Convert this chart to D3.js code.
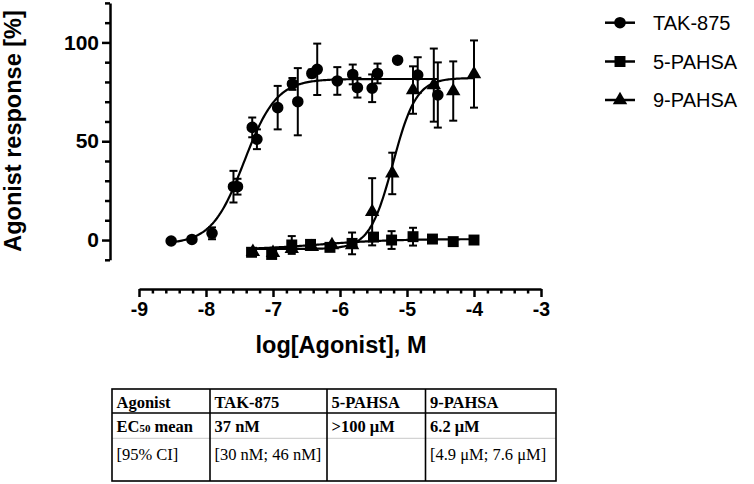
<!DOCTYPE html>
<html>
<head>
<meta charset="utf-8">
<script src="https://cdn.jsdelivr.net/npm/d3@7"></script>
<style>
  body { margin: 0; background: #fff; }
  svg { display: block; }
</style>
</head>
<body>
<div id="mi-grafica"></div>
<script>
// Datos
// TAK-875 (circulos)
var takX = [-8.52, -8.21, -7.91, -7.59, -7.53, -7.31, -7.24, -6.93, -6.71, -6.63,
            -6.42, -6.34, -6.04, -5.81, -5.74, -5.52, -5.44, -5.14, -4.84, -4.54];
var takY = [-0.5, 0.3, 3.4, 27, 27, 57, 51, 67, 79, 70,
            84.3, 86.4, 80.5, 83.8, 77.1, 76.8, 84.3, 91, 83.5, 73.4];
var takErr = [0, 0, 3, 8, 4, 5, 5, 11, 3, 17,
              2, 13, 7, 5, 5, 7, 5, 0, 9, 16.5];

// 5-PAHSA (cuadrados)
var sqX = [-7.32, -7.02, -6.72, -6.44, -6.15, -5.82, -5.50, -5.23, -4.91, -4.62, -4.31, -4.0];
var sqY = [-6.2, -7.3, -2.5, -2.2, -3.7, -1.7, 1.5, 0, 1.7, 0.5, -0.8, 0];
var sqErr = [0, 0, 4.5, 1, 1, 5.5, 1, 4.5, 4.5, 1, 0, 0];

// 9-PAHSA (triangulos)
var triX = [-7.3, -7.0, -6.72, -6.42, -6.12, -5.82, -5.52, -5.22, -4.91, -4.60, -4.31, -4.0];
var triY = [-6, -6.5, -4.5, -3.5, -2.5, -2.5, 14.3, 33.7, 75.9, 78.4, 75.4, 84];
var triErr = [0, 0, 1, 1, 1, 1, 17, 10.5, 12, 18.5, 15, 17];

// Parametros del ajuste sigmoide (4PL) de cada agonista
var fitNames = ["TAK-875", "5-PAHSA", "9-PAHSA"];
var fitBottom = [-2, -5, -4.5];
var fitTop = [81.5, 0.5, 82];
var fitLogEC50 = [-7.43, -6.3, -5.21];
var fitHill = [1.8, 0.8, 2.5];
var fitFrom = [-8.52, -7.32, -7.3];
var fitTo = [-4.54, -4.0, -4.0];

// Ejes
var xTicks = [-9, -8, -7, -6, -5, -4, -3];
var yTicks = [0, 50, 100];

// Tabla
var tableHeader = ["Agonist", "TAK-875", "5-PAHSA", "9-PAHSA"];
var ec50Row = ["EC50 mean", "37 nM", ">100 μM", "6.2 μM"];
var ciRow = ["[95% CI]", "[30 nM; 46 nM]", "", "[4.9 μM; 7.6 μM]"];

var sans = "'Liberation Sans', Arial, Helvetica, sans-serif";
var serif = "'Liberation Serif', 'Times New Roman', serif";

var svg = d3.select("#mi-grafica")
    .append("svg")
    .attr("width", 754)
    .attr("height", 484);

var x = d3.scaleLinear().domain([-9, -3]).range([139, 541]);
var y = d3.scaleLinear().domain([-10, 120]).range([259.8, 2.9]);

// Eje Y
var yAxis = svg.append("g")
    .attr("transform", "translate(110,0)")
    .call(d3.axisLeft(y).tickValues(yTicks).tickSize(8).tickSizeOuter(0).tickPadding(3)
      .tickFormat(d => String(d)));
svg.append("g")
    .attr("transform", "translate(110,0)")
    .call(d3.axisLeft(y).tickValues(d3.range(-10, 121, 10).filter(v => yTicks.indexOf(v) < 0))
      .tickSize(5).tickSizeOuter(0).tickFormat(""))
    .select(".domain").remove();

// Eje X (etiquetas con guion simple, como en el original)
var xAxis = svg.append("g")
    .attr("transform", "translate(0,289)")
    .call(d3.axisBottom(x).tickValues(xTicks).tickSize(8).tickSizeOuter(0).tickPadding(5)
      .tickFormat(d => String(d)));
svg.append("g")
    .attr("transform", "translate(0,289)")
    .call(d3.axisBottom(x).tickValues(d3.range(-9, -3, 0.2).filter((v, i) => i % 5 !== 0))
      .tickSize(4.5).tickSizeOuter(0).tickFormat(""))
    .select(".domain").remove();

svg.selectAll(".domain, .tick line")
    .attr("stroke", "#000")
    .attr("stroke-width", 2.5);

yAxis.selectAll(".tick text")
    .attr("font-family", sans)
    .attr("font-weight", "bold")
    .attr("font-size", 21)
    .attr("fill", "#000");
xAxis.selectAll(".tick text")
    .attr("font-family", sans)
    .attr("font-weight", "bold")
    .attr("font-size", 19.5)
    .attr("fill", "#000");

// Titulos de los ejes
svg.append("text")
    .attr("x", 341)
    .attr("y", 353)
    .attr("text-anchor", "middle")
    .attr("font-family", sans)
    .attr("font-weight", "bold")
    .attr("font-size", 23.5)
    .text("log[Agonist], M");

svg.append("text")
    .attr("transform", "translate(21,131) rotate(-90)")
    .attr("text-anchor", "middle")
    .attr("font-family", sans)
    .attr("font-weight", "bold")
    .attr("font-size", 23.5)
    .text("Agonist response [%]");

// Curvas ajustadas
var line = d3.line().x(d => x(d[0])).y(d => y(d[1])).curve(d3.curveLinear);
fitNames.forEach(function(name, i) {
  var pts = d3.range(fitFrom[i], fitTo[i] + 0.001, 0.02).map(function(v) {
    var f = 1 / (1 + Math.pow(10, fitHill[i] * (fitLogEC50[i] - v)));
    return [v, fitBottom[i] + (fitTop[i] - fitBottom[i]) * f];
  });
  svg.append("path")
    .attr("d", line(pts))
    .attr("fill", "none")
    .attr("stroke", "#000")
    .attr("stroke-width", 2.2);
});

// Marcadores
var symbols = [d3.symbolCircle, d3.symbolSquare, d3.symbolTriangle];
var symbolSizes = [105, 120, 90];

function drawSeries(xs, ys, errs, k) {
  var g = svg.append("g");
  xs.forEach(function(v, i) {
    if (errs[i] > 0) {
      var cx = x(v);
      var y1 = y(ys[i] + errs[i]);
      var y2 = y(ys[i] - errs[i]);
      g.append("line").attr("x1", cx).attr("x2", cx).attr("y1", y1).attr("y2", y2);
      g.append("line").attr("x1", cx - 4).attr("x2", cx + 4).attr("y1", y1).attr("y2", y1);
      g.append("line").attr("x1", cx - 4).attr("x2", cx + 4).attr("y1", y2).attr("y2", y2);
    }
  });
  g.selectAll("line")
    .attr("stroke", "#000")
    .attr("stroke-width", 2);
  g.selectAll("path")
    .data(xs)
    .enter()
    .append("path")
    .attr("d", d3.symbol().type(symbols[k]).size(symbolSizes[k]))
    .attr("transform", (d, i) => "translate(" + x(d) + "," + y(ys[i]) + ")")
    .attr("fill", "#000");
}

drawSeries(sqX, sqY, sqErr, 1);
drawSeries(triX, triY, triErr, 2);
drawSeries(takX, takY, takErr, 0);

// Leyenda
var legendY = [22.7, 61.5, 100];
fitNames.forEach(function(name, i) {
  svg.append("line")
    .attr("x1", 605).attr("x2", 635)
    .attr("y1", legendY[i]).attr("y2", legendY[i])
    .attr("stroke", "#000")
    .attr("stroke-width", 2.5);
  svg.append("path")
    .attr("d", d3.symbol().type(symbols[i]).size(symbolSizes[i]))
    .attr("transform", "translate(620," + legendY[i] + ")")
    .attr("fill", "#000");
  svg.append("text")
    .attr("x", 653)
    .attr("y", legendY[i] + 7.2)
    .attr("font-family", sans)
    .attr("font-size", 20)
    .text(name);
});

// Tabla de EC50
var colX = [112, 210, 327, 425.5, 556];
var rowY = [389, 413, 438.3, 481];
var tabla = svg.append("g");

tabla.append("line")
  .attr("x1", colX[0]).attr("x2", colX[4])
  .attr("y1", rowY[2]).attr("y2", rowY[2])
  .attr("stroke", "#c8c8c8")
  .attr("stroke-width", 1);
tabla.append("line")
  .attr("x1", colX[0]).attr("x2", colX[4])
  .attr("y1", rowY[1]).attr("y2", rowY[1])
  .attr("stroke", "#000")
  .attr("stroke-width", 1.6);
colX.slice(1, 4).forEach(function(cx) {
  tabla.append("line")
    .attr("x1", cx).attr("x2", cx)
    .attr("y1", rowY[0]).attr("y2", rowY[3])
    .attr("stroke", "#000")
    .attr("stroke-width", 1.6);
});
tabla.append("rect")
  .attr("x", colX[0]).attr("y", rowY[0])
  .attr("width", colX[4] - colX[0])
  .attr("height", rowY[3] - rowY[0])
  .attr("fill", "none")
  .attr("stroke", "#000")
  .attr("stroke-width", 1.6);

var rows = [tableHeader, ec50Row, ciRow];
var baselines = [408.3, 431.5, 459.5];
rows.forEach(function(row, r) {
  row.forEach(function(txt, c) {
    var t = tabla.append("text")
      .attr("x", colX[c] + 4.5)
      .attr("y", baselines[r])
      .attr("font-family", serif)
      .attr("font-size", 16.5)
      .attr("font-weight", r < 2 ? "bold" : "normal");
    if (txt.indexOf("EC50") === 0) {
      // subindice del 50
      t.append("tspan").text("EC");
      t.append("tspan").attr("font-size", 11).text("50");
      t.append("tspan").text(txt.slice(4));
    } else {
      t.text(txt);
    }
  });
});
</script>
</body>
</html>
